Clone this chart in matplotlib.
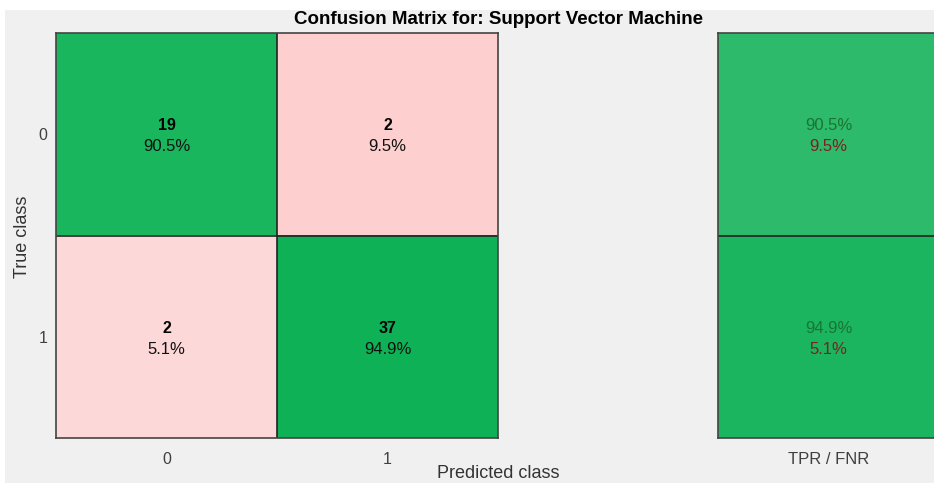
import numpy as np
import matplotlib
matplotlib.use("Agg")
import matplotlib.pyplot as plt
from matplotlib.patches import Rectangle
from matplotlib.colors import to_rgb

plt.rcParams['font.family'] = ['Liberation Sans', 'DejaVu Sans']

title = "Confusion Matrix for: Support Vector Machine"
classes = ["0", "1"]
counts = [[19, 2], [2, 37]]
row_pct = [[90.5, 9.5], [5.1, 94.9]]
tpr = [90.5, 94.9]
fnr = [9.5, 5.1]
summary_label = "TPR / FNR"

cell_colors = [["#1ab65e", "#fdcfcf"], ["#fdd8d8", "#0eb155"]]
summary_colors = ["#2dba6b", "#1ab55e"]

W, H = 934, 483
fig = plt.figure(figsize=(W / 100, H / 100), dpi=100, facecolor="white")
fig.patches.append(Rectangle((5 / W, 0), 1, (H - 10) / H, transform=fig.transFigure,
                             facecolor="#f0f0f0", edgecolor="none", zorder=-10))

def px_ax(x0, y0, x1, y1):
    return fig.add_axes([x0 / W, (H - y1) / H, (x1 - x0) / W, (y1 - y0) / H])

ax = px_ax(56, 33, 498, 438)
n = len(classes)
rgb = np.array([[to_rgb(c) for c in row] for row in cell_colors])
ax.imshow(rgb, extent=(-0.5, n - 0.5, n - 0.5, -0.5), aspect="auto", interpolation="nearest")
for i in range(n):
    for j in range(n):
        ax.text(j, i - 0.042, str(counts[i][j]), ha="center", va="center",
                fontsize=11.5, fontweight="bold", color="black")
        ax.text(j, i + 0.062, f"{row_pct[i][j]:.1f}%", ha="center", va="center",
                fontsize=12, color="#111111")
for k in range(1, n):
    ax.axhline(k - 0.5, color="#222222", lw=1.2)
    ax.axvline(k - 0.5, color="#222222", lw=1.2)
ax.set_xlim(-0.5, n - 0.5)
ax.set_ylim(n - 0.5, -0.5)
ax.set_xticks(range(n), classes)
ax.set_yticks(range(n), classes)
ax.tick_params(axis="both", length=0, labelsize=11.5, labelcolor="#404040")
ax.tick_params(axis="x", pad=10)
ax.tick_params(axis="y", pad=6)
ax.set_ylabel("True class", fontsize=13, color="#333333")
ax.yaxis.set_label_coords((31 - 56) / 442, (438 - 237) / 405)
for s in ax.spines.values():
    s.set_color("#444444")
    s.set_linewidth(1.2)

ax2 = px_ax(718, 33, 939, 438)
rgb2 = np.array([[to_rgb(c)] for c in summary_colors])
ax2.imshow(rgb2, extent=(-0.5, 0.5, n - 0.5, -0.5), aspect="auto", interpolation="nearest")
for i in range(n):
    ax2.text(0, i - 0.042, f"{tpr[i]:.1f}%", ha="center", va="center", fontsize=12, color="#1a7530")
    ax2.text(0, i + 0.062, f"{fnr[i]:.1f}%", ha="center", va="center", fontsize=12, color="#7d2020")
for k in range(1, n):
    ax2.axhline(k - 0.5, color="#222222", lw=1.2)
ax2.set_xlim(-0.5, 0.5)
ax2.set_ylim(n - 0.5, -0.5)
ax2.set_xticks([0], [summary_label])
ax2.set_yticks([])
ax2.tick_params(length=0, labelsize=12, labelcolor="#404040", pad=10)
for s in ax2.spines.values():
    s.set_color("#444444")
    s.set_linewidth(1.2)

fig.text(498 / W, 1 - 20 / H, title, ha="center", va="center", fontsize=13.5, fontweight="bold")
fig.text(498 / W, 1 - 465 / H, "Predicted class", ha="center", va="top", fontsize=13, color="#333333")

fig.savefig("out.png", dpi=100, facecolor=fig.get_facecolor())
